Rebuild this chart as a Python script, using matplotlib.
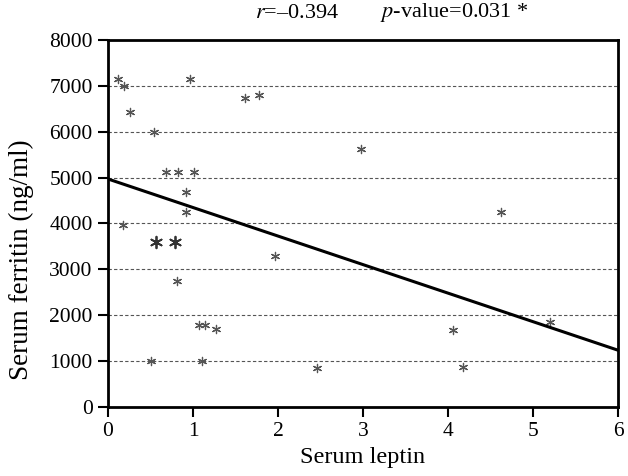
import numpy as np
import matplotlib
matplotlib.use('Agg')
import matplotlib.pyplot as plt

# ── Données ──
leptin = [0.12, 0.19, 0.26, 0.54, 0.96, 1.61, 1.78, 0.68, 0.82, 1.01,
          0.92, 0.92, 0.18, 1.97, 0.81, 1.07, 1.14, 1.27, 0.50, 1.11,
          2.46, 2.98, 4.62, 4.06, 4.18, 5.20]
ferritin = [7150, 7000, 6430, 5990, 7150, 6730, 6800, 5115, 5115, 5115,
            4680, 4260, 3960, 3300, 2750, 1790, 1790, 1700, 1000, 1000,
            850, 5620, 4240, 1680, 870, 1860]
# deux points tracés plus gros
leptin_big   = [0.57, 0.79]
ferritin_big = [3600, 3600]

fit_intercept = 4970
fit_slope     = -622

xticks = [0, 1, 2, 3, 4, 5, 6]
yticks = [0, 1000, 2000, 3000, 4000, 5000, 6000, 7000, 8000]

plt.rcParams['font.family'] = ['Liberation Serif', 'DejaVu Serif']
plt.rcParams['mathtext.fontset'] = 'stix'

fig = plt.figure(figsize=(6.28, 4.76), dpi=100)
ax = fig.add_axes([0.172, 0.145, 0.812, 0.771])

for y in yticks[1:-1]:
    ax.axhline(y, color="#555555", linestyle=(0, (3, 2)), linewidth=0.8, zorder=1)

ax.scatter(leptin, ferritin, marker=(6, 2, 0), s=35, color="#555555",
           linewidths=0.9, zorder=3)
ax.scatter(leptin_big, ferritin_big, marker=(6, 2, 0), s=70, color="#333333",
           linewidths=1.3, zorder=3)

xs = np.array([0, 6])
ax.plot(xs, fit_intercept + fit_slope * xs, color="black", linewidth=2.2, zorder=4)

ax.set_xlim(0, 6)
ax.set_ylim(0, 8000)
ax.set_xticks(xticks)
ax.set_yticks(yticks)
ax.tick_params(labelsize=15.5, width=1.5, length=7.5, direction='out', pad=3.5)
for s in ax.spines.values():
    s.set_linewidth(2)

ax.set_xlabel("Serum leptin", fontsize=17.5)
ax.xaxis.set_label_coords(0.5, -0.109)
ax.set_ylabel("Serum ferritin (ng/ml)", fontsize=19.5)
ax.yaxis.set_label_coords(-0.145, 0.40)

# ── Titre en deux morceaux ──
fig.text(255 / 628, 1 - 13 / 476, r"$r$=–0.394", fontsize=16, ha='left', va='center')
fig.text(380 / 628, 1 - 13 / 476, r"$p$-value=0.031 *", fontsize=16, ha='left', va='center')

plt.savefig("out.png", dpi=100)
plt.close()
